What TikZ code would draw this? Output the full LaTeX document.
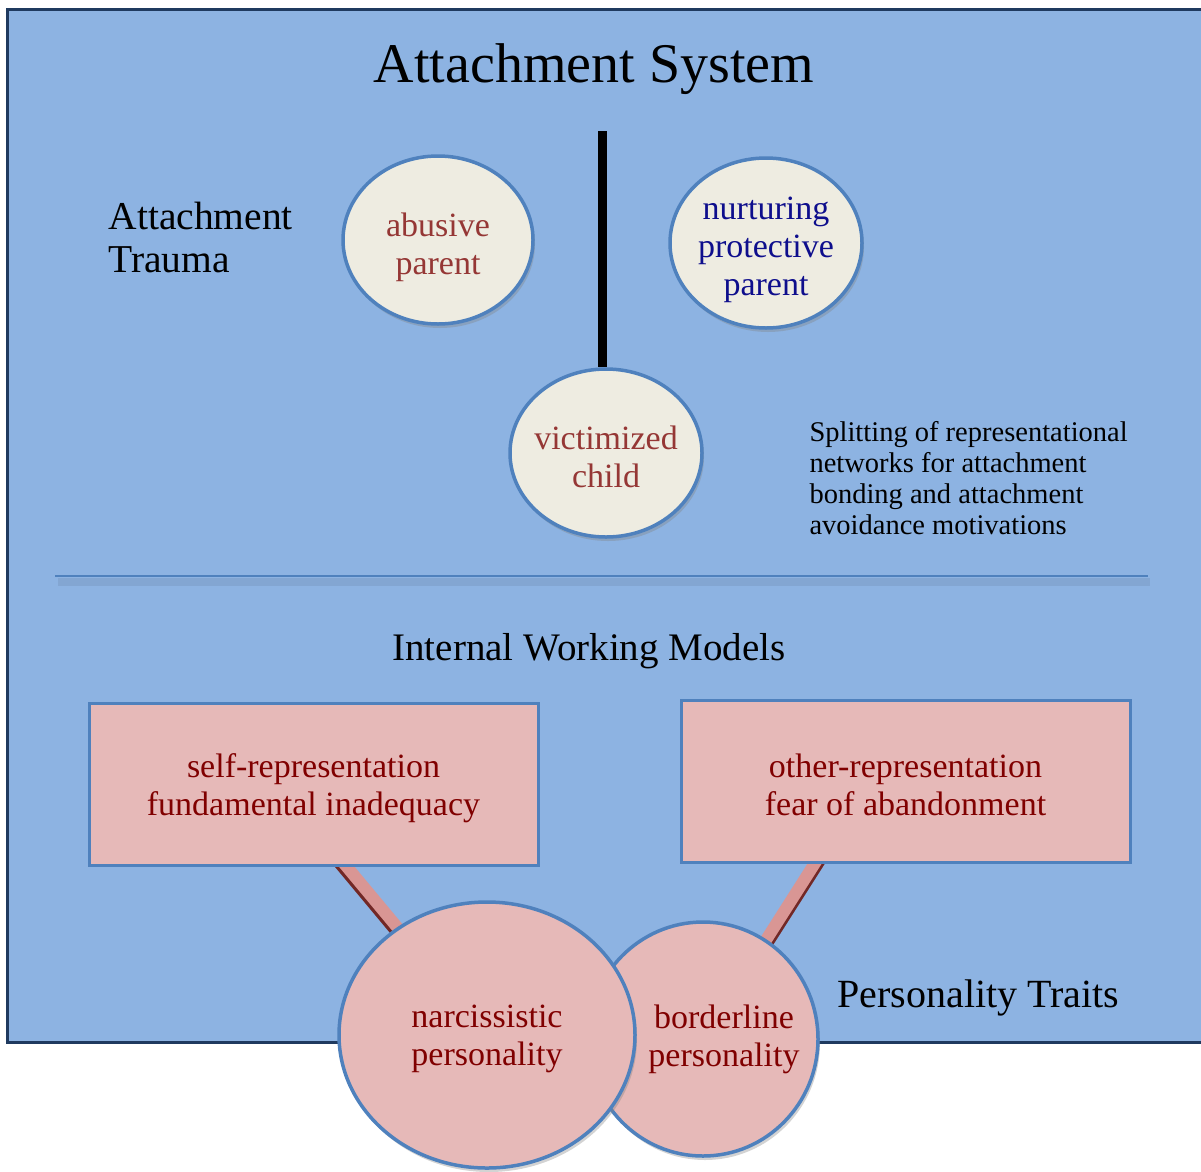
\documentclass[tikz,border=0pt]{standalone}
\usepackage{fontspec}
\setmainfont{Liberation Serif}
\usetikzlibrary{positioning}
\usetikzlibrary{shapes.geometric}
\usetikzlibrary{shadows}
\definecolor{mback}{HTML}{8DB3E2}
\definecolor{mframe}{HTML}{1F3A5F}
\definecolor{medge}{HTML}{4F81BD}
\definecolor{mcream}{HTML}{EEECE1}
\definecolor{mpink}{HTML}{E6B9B8}
\definecolor{mbar}{HTML}{D99694}
\definecolor{mbardark}{HTML}{722826}
\definecolor{mred}{HTML}{953735}
\definecolor{mmaroon}{HTML}{800000}
\definecolor{mnavy}{HTML}{0E0E8C}
\pgfdeclarelayer{backdrop}
\pgfdeclarelayer{links}
\pgfsetlayers{backdrop,links,main}
\tikzset{
  oval/.style = {ellipse, draw=medge, line width=3.5, inner sep=0,
    drop shadow={opacity=0.35, shadow xshift=2pt, shadow yshift=-4pt}},
  parent/.style = {oval, fill=mcream},
  trait/.style = {oval, fill=mpink},
  repbox/.style = {rectangle, draw=medge, line width=3, fill=mpink,
    minimum width=449, minimum height=162, inner sep=0},
  ovaltext/.style = {align=center, font=\fontsize{34}{38}\selectfont},
  heading/.style = {align=left, font=\fontsize{39.5}{43}\selectfont},
  bar/.style = {line width=12, mbar},
  bardark/.style = {line width=12, mbardark, transform canvas={yshift=-5pt}},
}
\begin{document}
\begin{tikzpicture}[x=1pt, y=-1pt]
  \useasboundingbox (0, 0) rectangle (1201, 1171);

  \begin{pgfonlayer}{backdrop}
    \draw [fill=mback, draw=mframe, line width=3] (7, 9) rectangle (1215, 1042);
  \end{pgfonlayer}

  \node (title) at (594, 69) [font=\fontsize{56}{60}\selectfont] {Attachment System};
  \node (trauma) at (105, 237) [heading, anchor=west] {Attachment\\Trauma};

  \node (abuse) at (438, 240) [parent, minimum width=190, minimum height=168,
    label={[ovaltext, text=mred, yshift=-7pt]center:abusive\\parent}] {};
  \node (nurture) at (766, 243) [parent, minimum width=192, minimum height=170,
    label={[ovaltext, text=mnavy, yshift=-7pt]center:nurturing\\protective\\parent}] {};
  \node (child) at (606, 453) [parent, minimum width=192, minimum height=168,
    label={[ovaltext, text=mred, yshift=-4pt]center:victimized\\child}] {};

  \coordinate (splittop) at (602, 131);
  \draw [line width=9] (child.north -| splittop) -- (splittop);

  \node (splitting) at (806, 478) [anchor=west, align=left,
    font=\fontsize{28.5}{31}\selectfont]
    {Splitting of representational\\networks for attachment\\bonding and attachment\\avoidance motivations};

  % separator
  \draw [line width=8, black, opacity=0.07] (58, 582) -- (1150, 582);
  \draw [line width=2.5, medge] (55, 576) -- (1148, 576);

  \node (models) at (589, 651) [font=\fontsize{39}{43}\selectfont] {Internal Working Models};

  \node (self) at (313.5, 784) [repbox,
    label={[ovaltext, text=mmaroon, yshift=-4pt]center:self-representation\\fundamental inadequacy}] {};
  \node (other) at (905.5, 781) [repbox,
    label={[ovaltext, text=mmaroon, yshift=-4pt]center:other-representation\\fear of abandonment}] {};

  \node (border) at (703, 1039) [trait, minimum width=230, minimum height=234,
    label={[ovaltext, text=mmaroon, xshift=21pt]center:borderline\\personality}] {};
  \node (narc) at (487, 1035) [trait, minimum width=296, minimum height=266,
    label={[ovaltext, text=mmaroon, yshift=-4pt]center:narcissistic\\personality}] {};

  \node (traits) at (834, 998) [anchor=west, font=\fontsize{40}{44}\selectfont] {Personality Traits};

  \coordinate (selfport) at (337, 855);
  \coordinate (otherport) at (822, 852);
  \begin{pgfonlayer}{links}
    \draw [bardark] (selfport) -- (narc.center);
    \draw [bar] (selfport) -- (narc.center);
    \draw [bardark] (otherport) -- (border.center);
    \draw [bar] (otherport) -- (border.center);
  \end{pgfonlayer}
\end{tikzpicture}
\end{document}
